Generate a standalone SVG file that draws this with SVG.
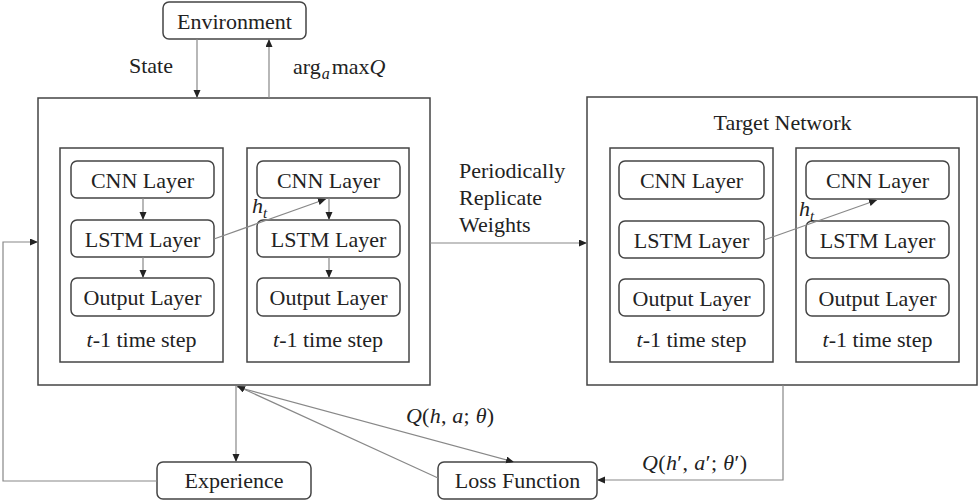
<svg xmlns="http://www.w3.org/2000/svg" width="980" height="501" viewBox="0 0 980 501">
<defs>
<style>
.box{fill:#fff;stroke:#444;stroke-width:1.5}
.rb{fill:#fff;stroke:#444;stroke-width:1.5}
.conn{fill:none;stroke:#888;stroke-width:1.2}
.c{text-anchor:middle}
.i{font-style:italic}
</style>
<marker id="ah" markerUnits="userSpaceOnUse" markerWidth="9" markerHeight="8" refX="8" refY="3.5" orient="auto">
<path d="M0,0 L8,3.5 L0,7 z" fill="#222"/>
</marker>
</defs>
<rect width="980" height="501" fill="#fff"/>

<g id="environment">
<rect class="rb" x="163" y="2" width="143" height="37" rx="6"/>
<text class="c" x="234.5" y="29" font-family="Liberation Serif" font-size="22" fill="#222">Environment</text>
</g>

<g id="main-network">
<rect class="box" x="38" y="98" width="392" height="287"/>
<g id="main-step1">
<rect class="box" x="60" y="148" width="163" height="214"/>
<rect class="rb" x="71" y="161" width="143" height="37" rx="6"/>
<text class="c" x="142.5" y="188" font-family="Liberation Serif" font-size="22" fill="#222">CNN Layer</text>
<rect class="rb" x="71" y="220" width="143" height="37" rx="6"/>
<text class="c" x="142.5" y="247" font-family="Liberation Serif" font-size="22" fill="#222">LSTM Layer</text>
<rect class="rb" x="71" y="278" width="143" height="38" rx="6"/>
<text class="c" x="142.5" y="305" font-family="Liberation Serif" font-size="22" fill="#222">Output Layer</text>
<text class="c" x="141.5" y="347" font-family="Liberation Serif" font-size="22" fill="#222"><tspan class="i">t</tspan>-1 time step</text>
</g>
<g id="main-step2">
<rect class="box" x="247" y="148" width="162" height="214"/>
<rect class="rb" x="257" y="161" width="143" height="37" rx="6"/>
<text class="c" x="328.5" y="188" font-family="Liberation Serif" font-size="22" fill="#222">CNN Layer</text>
<rect class="rb" x="257" y="220" width="143" height="37" rx="6"/>
<text class="c" x="328.5" y="247" font-family="Liberation Serif" font-size="22" fill="#222">LSTM Layer</text>
<rect class="rb" x="257" y="278" width="143" height="38" rx="6"/>
<text class="c" x="328.5" y="305" font-family="Liberation Serif" font-size="22" fill="#222">Output Layer</text>
<text class="c" x="328" y="347" font-family="Liberation Serif" font-size="22" fill="#222"><tspan class="i">t</tspan>-1 time step</text>
</g>
</g>

<g id="target-network">
<rect class="box" x="587" y="97" width="390" height="288"/>
<text class="c" x="782.5" y="130" font-family="Liberation Serif" font-size="22" fill="#222">Target Network</text>
<g id="target-step1">
<rect class="box" x="610" y="148" width="163" height="214"/>
<rect class="rb" x="619" y="161" width="145" height="38" rx="6"/>
<text class="c" x="691.5" y="188" font-family="Liberation Serif" font-size="22" fill="#222">CNN Layer</text>
<rect class="rb" x="619" y="221" width="145" height="37" rx="6"/>
<text class="c" x="691.5" y="248" font-family="Liberation Serif" font-size="22" fill="#222">LSTM Layer</text>
<rect class="rb" x="619" y="279" width="145" height="37" rx="6"/>
<text class="c" x="691.5" y="306" font-family="Liberation Serif" font-size="22" fill="#222">Output Layer</text>
<text class="c" x="691.5" y="347" font-family="Liberation Serif" font-size="22" fill="#222"><tspan class="i">t</tspan>-1 time step</text>
</g>
<g id="target-step2">
<rect class="box" x="796" y="148" width="163" height="214"/>
<rect class="rb" x="806" y="161" width="143" height="38" rx="6"/>
<text class="c" x="877.5" y="188" font-family="Liberation Serif" font-size="22" fill="#222">CNN Layer</text>
<rect class="rb" x="806" y="221" width="143" height="37" rx="6"/>
<text class="c" x="877.5" y="248" font-family="Liberation Serif" font-size="22" fill="#222">LSTM Layer</text>
<rect class="rb" x="806" y="279" width="143" height="37" rx="6"/>
<text class="c" x="877.5" y="306" font-family="Liberation Serif" font-size="22" fill="#222">Output Layer</text>
<text class="c" x="877.5" y="347" font-family="Liberation Serif" font-size="22" fill="#222"><tspan class="i">t</tspan>-1 time step</text>
</g>
</g>

<g id="experience">
<rect class="rb" x="157" y="462" width="154" height="37" rx="6"/>
<text class="c" x="234" y="488" font-family="Liberation Serif" font-size="22" fill="#222">Experience</text>
</g>

<g id="loss-function">
<rect class="rb" x="438" y="462" width="159" height="37" rx="6"/>
<text class="c" x="517.5" y="488" font-family="Liberation Serif" font-size="22" fill="#222">Loss Function</text>
</g>

<g id="connectors">
<line class="conn" x1="197" y1="39" x2="197" y2="98" marker-end="url(#ah)"/>
<line class="conn" x1="269" y1="98" x2="269" y2="39" marker-end="url(#ah)"/>
<line class="conn" x1="143" y1="198" x2="143" y2="220" marker-end="url(#ah)"/>
<line class="conn" x1="143" y1="257" x2="143" y2="278" marker-end="url(#ah)"/>
<line class="conn" x1="329" y1="198" x2="329" y2="220" marker-end="url(#ah)"/>
<line class="conn" x1="329" y1="257" x2="329" y2="278" marker-end="url(#ah)"/>
<line class="conn" x1="214" y1="239" x2="326" y2="199" marker-end="url(#ah)"/>
<line class="conn" x1="764" y1="240" x2="877" y2="200" marker-end="url(#ah)"/>
<line class="conn" x1="430" y1="243" x2="587" y2="243" marker-end="url(#ah)"/>
<polyline class="conn" points="157,481 3,481 3,242 38,242" marker-end="url(#ah)"/>
<line class="conn" x1="236" y1="386" x2="236" y2="462" marker-end="url(#ah)"/>
<line class="conn" x1="237" y1="387" x2="514" y2="462" marker-end="url(#ah)"/>
<line class="conn" x1="438" y1="478" x2="237" y2="386" marker-end="url(#ah)"/>
<polyline class="conn" points="783,385 783,480 597,480" marker-end="url(#ah)"/>
</g>

<g id="labels">
<text class="c" x="151" y="73" font-family="Liberation Serif" font-size="22" fill="#222">State</text>
<text x="293" y="74" font-family="Liberation Serif" font-size="22" fill="#222">arg<tspan class="i" font-size="16" dy="5" dx="1">a</tspan><tspan dy="-5" dx="2">max</tspan><tspan class="i">Q</tspan></text>
<text x="252" y="213" font-family="Liberation Serif" font-size="22" fill="#222"><tspan class="i">h</tspan><tspan class="i" font-size="15" dy="5">t</tspan></text>
<text x="799" y="216" font-family="Liberation Serif" font-size="22" fill="#222"><tspan class="i">h</tspan><tspan class="i" font-size="15" dy="5">t</tspan></text>
<text x="459" y="178" font-family="Liberation Serif" font-size="22" fill="#222">Periodically</text>
<text x="459" y="205" font-family="Liberation Serif" font-size="22" fill="#222">Replicate</text>
<text x="459" y="232" font-family="Liberation Serif" font-size="22" fill="#222">Weights</text>
<text x="406" y="423" font-family="Liberation Serif" font-size="22" fill="#222" textLength="88" lengthAdjust="spacing"><tspan class="i">Q</tspan>(<tspan class="i">h</tspan>, <tspan class="i">a</tspan>; <tspan class="i">θ</tspan>)</text>
<text x="642" y="470" font-family="Liberation Serif" font-size="22" fill="#222" textLength="105" lengthAdjust="spacing"><tspan class="i">Q</tspan>(<tspan class="i">h</tspan>′, <tspan class="i">a</tspan>′; <tspan class="i">θ</tspan>′)</text>
</g>
</svg>
